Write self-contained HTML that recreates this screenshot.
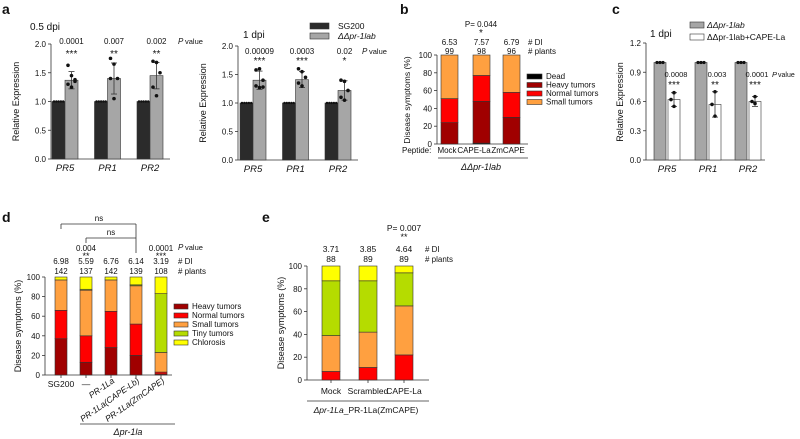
<!DOCTYPE html>
<html><head><meta charset="utf-8"><style>
body{margin:0;background:#fff}
svg{display:block;font-family:"Liberation Sans",sans-serif}
</style></head><body>
<svg id="fig" width="800" height="439" viewBox="0 0 800 439"></svg>
<script>
// ---- data ----
const genes = ["PR5","PR1","PR2"];
const a1Means = [1.37,1.40,1.45];
const a1Err = [0.15,0.27,0.23];
const a1Pts = [[1.63,1.45,1.38,1.30,1.25,1.35],[1.75,1.65,1.40,1.40,1.05],[1.70,1.68,1.50,1.25,1.10]];
const a1P = ["0.0001","0.007","0.002"];
const a1Stars = ["***","**","**"];
const a2Means = [1.40,1.41,1.22];
const a2Err = [0.16,0.14,0.17];
const a2Pts = [[1.58,1.60,1.40,1.30,1.27,1.28],[1.60,1.55,1.45,1.35,1.30],[1.40,1.38,1.22,1.10,1.05]];
const a2P = ["0.00009","0.0003","0.02"];
const a2Stars = ["***","***","*"];
const aTicks = [0,0.5,1.0,1.5,2.0];
const bCats = ["Mock","CAPE-La","ZmCAPE"];
const bDead = [0,1,0];
const bHeavy = [24,47,30];
const bNormal = [27,29,28];
const bSmall = [49,23,42];
const bDI = ["6.53","7.57","6.79"];
const bPlants = ["99","98","96"];
const bTicks = [0,20,40,60,80,100];
const cMeans = [0.62,0.57,0.60];
const cErr = [0.07,0.13,0.05];
const cPts = [[0.69,0.62,0.55],[0.70,0.57,0.45],[0.65,0.60,0.58]];
const cP = ["0.0008","0.003","0.0001"];
const cStars = ["***","**","***"];
const cTicks = [0,0.3,0.6,0.9,1.2];
const dCats = ["SG200","—","PR-1La","PR-1La(CAPE-Lb)","PR-1La(ZmCAPE)"];
const dHeavy = [37,13,28,20,1];
const dNormal = [29,27,37,32,2];
const dSmall = [31,46.5,32,39,20];
const dTiny = [0,1,0,1,60];
const dChlor = [3,12.5,3,8,17];
const dDI = ["6.98","5.59","6.76","6.14","3.19"];
const dPlants = ["142","137","142","139","108"];
const dP = ["","0.004","","","0.0001"];
const dStars = ["","**","","","***"];
const eCats = ["Mock","Scrambled","CAPE-La"];
const eNormal = [7.5,11,22];
const eSmall = [31.5,31,43];
const eTiny = [48,45,29];
const eChlor = [13,13,6];
const eDI = ["3.71","3.85","4.64"];
const ePlants = ["88","89","89"];

const C = {dark:"#2b2b2b",grey:"#a6a6a6",dead:"#000",heavy:"#a00000",normal:"#ff0000",small:"#ffa040",tiny:"#b5dc00",chlor:"#ffff00"};
const svg = document.getElementById('fig');
const NS="http://www.w3.org/2000/svg";
function el(tag,attrs,parent){const e=document.createElementNS(NS,tag);for(const k in attrs)e.setAttribute(k,attrs[k]);(parent||svg).appendChild(e);return e;}
function txt(x,y,s,size,anchor,extra,name){const t=el('text',Object.assign({x:x,y:y,'font-size':size,'text-anchor':anchor||'middle',fill:'#111'},extra||{}));t.textContent=s;


return t;}
function line(x1,y1,x2,y2,w,name){const l=el('line',{x1,y1,x2,y2,stroke:'#333','stroke-width':w||0.8});


return l;}
function rect(x,y,w,h,fill,name){const r=el('rect',{x,y,width:w,height:h,fill,stroke:'#333','stroke-width':0.6});


return r;}
function yAxis(x,y0,y1,vmax,ticks,fmt,xEnd){
  const sc=v=>y0-(y0-y1)*v/vmax;
  line(x,y0,x,y1,0.8,'y-axis');line(x,y0,xEnd,y0,0.8,'x-axis');
  ticks.forEach(t=>{line(x-3,sc(t),x,sc(t),0.8,'y-tick');txt(x-5,sc(t)+3,fmt(t),8,'end',{},'y-tick-label');});
  return sc;
}
function letter(x,y,s){txt(x,y,s,14,'start',{'font-weight':'bold'},'panel-label-'+s);}

// ---- panel a ----
function exprPanel(ax,y0,y1,means,err,pts,pv,stars,b0,pitch,bw,xEnd,ptsY,starY,ttl,tx,ty){
  const sc=yAxis(ax,y0,y1,2,aTicks,t=>t.toFixed(1),xEnd);
  txt(ax-32,(y0+y1)/2,'Relative Expression',9,'middle',{transform:`rotate(-90 ${ax-32} ${(y0+y1)/2})`},'y-axis-title');
  txt(tx,ty,ttl,10,'start',{},'timepoint-title');
  genes.forEach((g,i)=>{
    const x=b0+i*pitch;
    rect(x,sc(1),bw,y0-sc(1),C.dark,'bar-sg200-'+g);
    rect(x+bw,sc(means[i]),bw,y0-sc(means[i]),C.grey,'bar-mutant-'+g);
    for(let k=0;k<5;k++)el('circle',{cx:x+2+k*2.3,cy:sc(1),r:1.2,fill:'#111'});
    const cx=x+bw*1.5;
    line(cx,sc(means[i]-err[i]),cx,sc(means[i]+err[i]),0.8,'error-bar');
    line(cx-3,sc(means[i]+err[i]),cx+3,sc(means[i]+err[i]),0.8,'error-cap');
    line(cx-3,sc(means[i]-err[i]),cx+3,sc(means[i]-err[i]),0.8,'error-cap');
    pts[i].forEach((p,k)=>{const c=el('circle',{cx:cx+((k%3)-1)*3.5,cy:sc(p),r:1.8,fill:'#111'});
    
    });
    txt(cx,ptsY,pv[i],8,'middle',{},'p-value');
    txt(cx,starY,stars[i],10,'middle',{},'significance');
    txt(x+bw,y0+12,g,9.5,'middle',{'font-style':'italic'},'x-label-'+g);
  });
}
letter(2,14,'a');
exprPanel(51,159,44,a1Means,a1Err,a1Pts,a1P,a1Stars,52,42.5,13,170,44,57,'0.5 dpi',30,30);
txt(178,44,'P',8,'start',{'font-style':'italic'},'p-label');txt(185,44,'value',7.5,'start',{},'p-label');
exprPanel(238,160,46,a2Means,a2Err,a2Pts,a2P,a2Stars,240,42.5,13,358,54,64,'1 dpi',243,38);
txt(362,54,'P',8,'start',{'font-style':'italic'},'p-label');txt(369,54,'value',7.5,'start',{},'p-label');
rect(310,23,19,6,C.dark,'legend-swatch-sg200');txt(338,29,'SG200',8.5,'start',{},'legend-entry');
rect(310,33,19,6,C.grey,'legend-swatch-mutant');txt(338,39,'ΔΔpr-1lab',8.5,'start',{'font-style':'italic'},'legend-entry');

// ---- panel b ----
letter(400,14,'b');
{
  const sc=yAxis(437,144,55,100,bTicks,t=>t,528);
  txt(410,100,'Disease symptoms (%)',8.5,'middle',{transform:'rotate(-90 410 100)'},'y-axis-title');
  const xs=[441,473,503],bw=17;
  const lx=[447,474,508];
  bCats.forEach((c,i)=>{
    let acc=0;
    [[bDead,C.dead],[bHeavy,C.heavy],[bNormal,C.normal],[bSmall,C.small]].forEach(([arr,col])=>{
      const v=arr[i]; if(v>0)rect(xs[i],sc(acc+v),bw,sc(acc)-sc(acc+v),col,'segment-'+c);acc+=v;});
    txt(lx[i],153,c,8,'middle',{},'x-label-'+c);
    txt(xs[i]+bw/2,45,bDI[i],8,'middle',{},'di-value');
    txt(xs[i]+bw/2,54,bPlants[i],8,'middle',{},'plants-value');
  });
  txt(402,153,'Peptide:',8,'start',{},'peptide-label');
  txt(528,45,'# DI',8,'start',{},'di-label');txt(528,54,'# plants',8,'start',{},'plants-label');
  txt(481,27,'P= 0.044',8,'middle',{},'p-value');txt(481,36,'*',10,'middle',{},'significance');
  line(438,158,528,158,0.8,'group-line');
  txt(481,170,'ΔΔpr-1lab',9,'middle',{'font-style':'italic'},'group-label');
  [['Dead',C.dead],['Heavy tumors',C.heavy],['Normal tumors',C.normal],['Small tumors',C.small]].forEach(([n,col],k)=>{
    rect(527,74+k*8.5,15,5,col,'legend-swatch');txt(546,79+k*8.5,n,8,'start',{},'legend-entry');});
}

// ---- panel c ----
letter(612,14,'c');
{
  const sc=yAxis(646,160,43,1.2,cTicks,t=>t.toFixed(1),765);
  txt(623,102,'Relative Expression',9,'middle',{transform:'rotate(-90 623 102)'},'y-axis-title');
  txt(650,37,'1 dpi',10,'start',{},'timepoint-title');
  const xs=[654,695,735],bw=12;
  genes.forEach((g,i)=>{
    const x=xs[i];
    rect(x,sc(1),bw,160-sc(1),C.grey,'bar-mutant-'+g);
    for(let k=0;k<3;k++)el('circle',{cx:x+3+k*3,cy:sc(1),r:1.6,fill:'#111'});
    rect(x+bw+2,sc(cMeans[i]),bw,160-sc(cMeans[i]),'#fff','bar-cape-'+g);
    const cx=x+bw+2+bw/2;
    line(cx,sc(cMeans[i]-cErr[i]),cx,sc(cMeans[i]+cErr[i]),0.8,'error-bar');
    line(cx-3,sc(cMeans[i]+cErr[i]),cx+3,sc(cMeans[i]+cErr[i]),0.8,'error-cap');
    line(cx-3,sc(cMeans[i]-cErr[i]),cx+3,sc(cMeans[i]-cErr[i]),0.8,'error-cap');
    cPts[i].forEach((p,k)=>{const c=el('circle',{cx:cx+(k==1?-3:0),cy:sc(p),r:1.8,fill:'#111'});
    
    });
    txt(cx+2,77,cP[i],7.5,'middle',{},'p-value');
    txt(cx,88,cStars[i],10,'middle',{},'significance');
    txt(x+bw+1,172,g,9.5,'middle',{'font-style':'italic'},'x-label-'+g);
  });
  txt(772,77,'P',7.5,'start',{'font-style':'italic'},'p-label');txt(778,77,'value',7,'start',{},'p-label');
  rect(690,22,14,6,C.grey,'legend-swatch');txt(707,28,'ΔΔpr-1lab',8.5,'start',{'font-style':'italic'},'legend-entry');
  rect(690,34,14,6,'#fff','legend-swatch');txt(707,40,'ΔΔpr-1lab+CAPE-La',8.5,'start',{},'legend-entry');
}

// ---- panel d ----
letter(2,222,'d');
{
  const sc=yAxis(45,375,277,100,bTicks,t=>t,172);
  txt(21,326,'Disease symptoms (%)',9,'middle',{transform:'rotate(-90 21 326)'},'y-axis-title');
  const xs=[55,80,105,130,155],bw=12;
  dCats.forEach((c,i)=>{
    let acc=0;
    [[dHeavy,C.heavy],[dNormal,C.normal],[dSmall,C.small],[dTiny,C.tiny],[dChlor,C.chlor]].forEach(([arr,col])=>{
      const v=arr[i]; if(v>0)rect(xs[i],sc(acc+v),bw,sc(acc)-sc(acc+v),col,'segment-'+c);acc+=v;});
    const cx=xs[i]+bw/2;
    line(cx,375,cx,378,0.8,'x-tick');
    txt(cx,264,dDI[i],8,'middle',{},'di-value');
    txt(cx,274,dPlants[i],8,'middle',{},'plants-value');
    if(dP[i]){txt(cx,251,dP[i],8,'middle',{},'p-value');txt(cx,259,dStars[i],9,'middle',{},'significance');}
    if(i<2)txt(cx,387,c,8.5,'middle',{},'x-label');
    else txt(cx+4,382,c,8.5,'end',{transform:`rotate(-35 ${cx+4} 382)`,'font-style':'italic'},'x-label');
  });
  txt(178,250,'P',8,'start',{'font-style':'italic'},'p-label');txt(185,250,'value',7.5,'start',{},'p-label');
  txt(178,264,'# DI',8,'start',{},'di-label');txt(178,274,'# plants',8,'start',{},'plants-label');
  line(61,224,136,224,0.8,'bracket');line(61,224,61,229,0.8,'bracket');line(136,224,136,253,0.8,'bracket');
  txt(99,221,'ns',8,'middle',{},'ns-label');
  line(86,238,136,238,0.8,'bracket');line(86,238,86,243,0.8,'bracket');
  txt(111,235,'ns',8,'middle',{},'ns-label');
  line(80,424,175,424,0.8,'group-line');
  txt(128,435,'Δpr-1la',9,'middle',{'font-style':'italic'},'group-label');
  [['Heavy tumors',C.heavy],['Normal tumors',C.normal],['Small tumors',C.small],['Tiny tumors',C.tiny],['Chlorosis',C.chlor]].forEach(([n,col],k)=>{
    rect(174,304+k*9,14,5,col,'legend-swatch');txt(192,309+k*9,n,8,'start',{},'legend-entry');});
}

// ---- panel e ----
letter(262,222,'e');
{
  const sc=yAxis(307,380,266,100,bTicks,t=>t,429);
  txt(284,323,'Disease symptoms (%)',9,'middle',{transform:'rotate(-90 284 323)'},'y-axis-title');
  const xs=[322,359,395],bw=18;
  eCats.forEach((c,i)=>{
    let acc=0;
    [[eNormal,C.normal],[eSmall,C.small],[eTiny,C.tiny],[eChlor,C.chlor]].forEach(([arr,col])=>{
      const v=arr[i]; if(v>0)rect(xs[i],sc(acc+v),bw,sc(acc)-sc(acc+v),col,'segment-'+c);acc+=v;});
    const cx=xs[i]+bw/2;
    line(cx,380,cx,383,0.8,'x-tick');
    txt(cx,394,c,8.5,'middle',{},'x-label-'+c);
    txt(cx,252,eDI[i],8.5,'middle',{},'di-value');
    txt(cx,262,ePlants[i],8.5,'middle',{},'plants-value');
  });
  txt(404,231,'P= 0.007',8.5,'middle',{},'p-value');txt(404,240,'**',9,'middle',{},'significance');
  txt(425,252,'# DI',8,'start',{},'di-label');txt(425,262,'# plants',8,'start',{},'plants-label');
  line(307,401,429,401,0.8,'group-line');
  const g=txt(366,413,'',8.5,'middle',{},'group-label');
  const t1=el('tspan',{'font-style':'italic'},g);t1.textContent='Δpr-1La';
  const t2=el('tspan',{},g);t2.textContent='_PR-1La(ZmCAPE)';
}
</script>
</body></html>
